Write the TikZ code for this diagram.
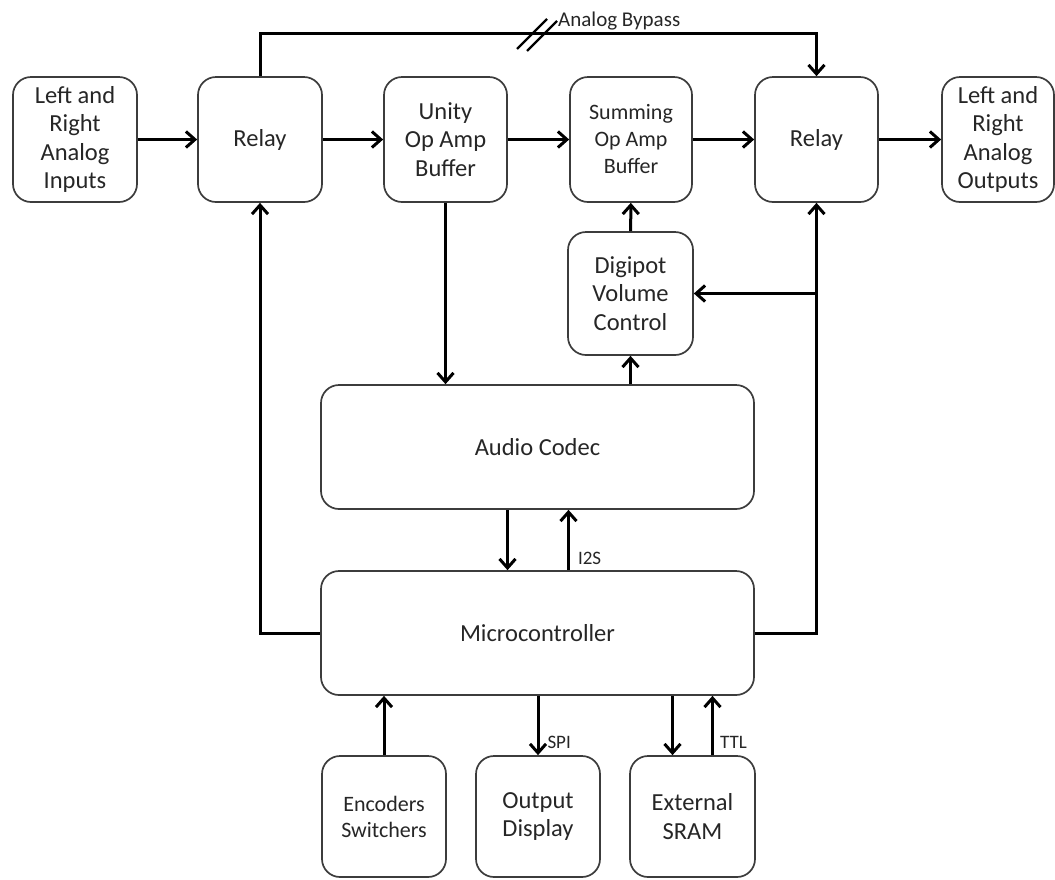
\documentclass[tikz,border=0pt]{standalone}
\usepackage{fontspec}
\setmainfont{Carlito}
\usetikzlibrary{
		calc,
		positioning,
		arrows.meta
	}
\definecolor{boxline}{HTML}{3C3C3C}
\definecolor{txt}{HTML}{262626}
\tikzset{
		>={Straight Barb[length=9pt,width=16pt]},
		block/.style={draw=boxline, line width=1.7pt, rounded corners=18pt, inner sep=0pt,
			align=center, text=txt, font=\fontsize{24.5}{28.5}\selectfont},
		wire/.style={line width=3pt, black},
		tag/.style={inner sep=0pt, text=txt, font=\fontsize{19}{21}\selectfont, anchor=west}
	}

\begin{document}
\begin{tikzpicture}[x=1pt, y=-1pt] % one unit = one pixel of the reference, y runs downwards
		\useasboundingbox (0,0) rectangle (1055,879);
		% top row: the analog signal path
		\node[block, minimum width=124, minimum height=125] (in) at (75,139.5) {Left and\\Right\\Analog\\Inputs};
		\node[block, minimum width=124, minimum height=125] (relayA) at (260,139.5) {Relay};
		\node[block, minimum width=123, minimum height=125] (unity) at (445.5,139.5) {Unity\\Op Amp\\Buffer};
		\node[block, minimum width=122, minimum height=125, font=\fontsize{22}{27}\selectfont] (summing) at (631,139.5) {Summing\\Op Amp\\Buffer};
		\node[block, minimum width=123, minimum height=125] (relayB) at (816.5,139.5) {Relay};
		\node[block, minimum width=112, minimum height=125] (out) at (998,139.5) {Left and\\Right\\Analog\\Outputs};
		% middle
		\node[block, minimum width=125, minimum height=123] (digipot) at (630.5,293.5) {Digipot\\Volume\\Control};
		\node[block, minimum width=433, minimum height=124] (codec) at (537.5,447) {Audio Codec};
		\node[block, minimum width=433, minimum height=124] (mcu) at (537.5,633) {Microcontroller};
		% bottom row
		\node[block, minimum width=124, minimum height=121, font=\fontsize{22}{26}\selectfont] (enc) at (384,816.5) {Encoders\\Switchers};
		\node[block, minimum width=124, minimum height=121] (disp) at (538,816.5) {Output\\Display};
		\node[block, minimum width=125, minimum height=121] (sram) at (692.5,816.5) {External\\SRAM};

		\foreach \a/\b in {in/relayA, relayA/unity, unity/summing, summing/relayB, relayB/out}
			\draw[wire,->] (\a) -- (\b);

		% analog bypass
		\coordinate (top) at (0,33);
		\coordinate (cut) at (537,34);
		\draw[wire,->] (relayA.north) |- (relayB.north |- top) -- (relayB.north);
		\draw[line width=2.2pt] ($(cut)+(-20,15)$) -- ++(30,-30) ($(cut)+(-10,17)$) -- ++(30,-30);
		\node[tag, font=\fontsize{21}{23}\selectfont] (bypass) at (558,21) {Analog Bypass};

		\draw[wire,->] (unity) -- (unity |- codec.north);
		\draw[wire,->] (digipot.south |- codec.north) -- (digipot.south);
		\draw[wire,->] (digipot) -- (summing);

		% control lines from the microcontroller
		\draw[wire,->] (mcu.west) -| (relayA.south);
		\draw[wire,->] (mcu.east) -| (relayB.south);
		\coordinate (tap) at (relayB.south |- digipot.east);
		\draw[wire,->] (tap) -- (digipot.east);

		% codec <-> microcontroller
		\draw[wire,->] ([xshift=-30]codec.south) -- ([xshift=-30]codec.south |- mcu.north);
		\draw[wire,->] ([xshift=31]codec.south |- mcu.north) -- ([xshift=31]codec.south) node[tag, pos=0.2, right=8pt] (i2s) {I2S};

		% peripherals
		\draw[wire,->] (enc) -- (enc |- mcu.south);
		\draw[wire,->] (mcu.south -| disp) -- (disp.north) node[tag, pos=0.78, right=8pt] (spi) {SPI};
		\draw[wire,->] ([xshift=-20]mcu.south -| sram) -- ([xshift=-20]sram.north);
		\draw[wire,->] ([xshift=20]sram.north) -- ([xshift=20]mcu.south -| sram) node[tag, pos=0.22, right=6pt] (ttl) {TTL};
	\end{tikzpicture}
\end{document}
